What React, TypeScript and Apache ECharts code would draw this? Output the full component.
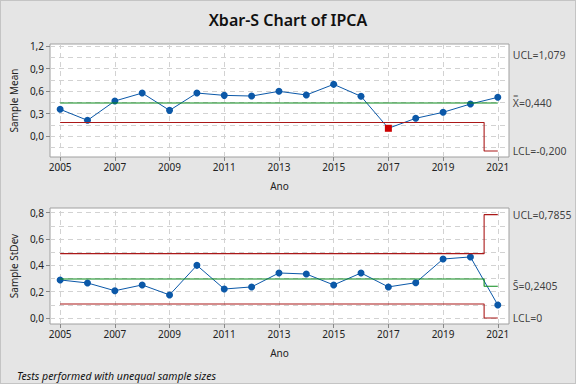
import React, { useEffect, useRef } from "react";
import * as echarts from "echarts";

const years = [2005, 2006, 2007, 2008, 2009, 2010, 2011, 2012, 2013, 2014, 2015, 2016, 2017, 2018, 2019, 2020, 2021];
const sampleMean = [0.356, 0.209, 0.467, 0.573, 0.342, 0.573, 0.542, 0.533, 0.596, 0.547, 0.689, 0.529, 0.103, 0.236, 0.316, 0.427, 0.516];
const meanUCL = [0.70, 0.70, 0.70, 0.70, 0.70, 0.70, 0.70, 0.70, 0.70, 0.70, 0.70, 0.70, 0.70, 0.70, 0.70, 0.70, 1.079];
const meanCL = [0.44, 0.44, 0.44, 0.44, 0.44, 0.44, 0.44, 0.44, 0.44, 0.44, 0.44, 0.44, 0.44, 0.44, 0.44, 0.44, 0.44];
const meanLCL = [0.18, 0.18, 0.18, 0.18, 0.18, 0.18, 0.18, 0.18, 0.18, 0.18, 0.18, 0.18, 0.18, 0.18, 0.18, 0.18, -0.2];
const meanFlagged = [2017];

const sampleStDev = [0.289, 0.266, 0.207, 0.251, 0.175, 0.400, 0.220, 0.236, 0.342, 0.334, 0.251, 0.342, 0.236, 0.268, 0.448, 0.464, 0.099];
const sdUCL = [0.489, 0.489, 0.489, 0.489, 0.489, 0.489, 0.489, 0.489, 0.489, 0.489, 0.489, 0.489, 0.489, 0.489, 0.489, 0.489, 0.7855];
const sdCL = [0.296, 0.296, 0.296, 0.296, 0.296, 0.296, 0.296, 0.296, 0.296, 0.296, 0.296, 0.296, 0.296, 0.296, 0.296, 0.296, 0.2405];
const sdLCL = [0.106, 0.106, 0.106, 0.106, 0.106, 0.106, 0.106, 0.106, 0.106, 0.106, 0.106, 0.106, 0.106, 0.106, 0.106, 0.106, 0];

const xTickYears = [2005, 2007, 2009, 2011, 2013, 2015, 2017, 2019, 2021];
const meanTicks = [0, 0.3, 0.6, 0.9, 1.2];
const meanGrid = [-0.15, 0, 0.15, 0.3, 0.45, 0.6, 0.75, 0.9, 1.05, 1.2];
const sdTicks = [0, 0.2, 0.4, 0.6, 0.8];
const sdGrid = [0, 0.1, 0.2, 0.3, 0.4, 0.5, 0.6, 0.7, 0.8];

const FONT = "'Noto Sans', 'DejaVu Sans', sans-serif";
const BLUE = "#0b58a8";
const RED = "#aa1818";
const GREEN = "#0a8a1a";
const GRIDC = "#d2d2d2";

const comma = (v: number, d: number) => v.toFixed(d).replace(".", ",");

export default function App() {
  const ref = useRef<HTMLDivElement>(null);
  useEffect(() => {
    if (!ref.current) return;
    const chart = echarts.init(ref.current, null, { renderer: "svg" });

    const pairs = (ys: number[]) => years.map((y, i) => [y, ys[i]]);
    const lastYear = years[years.length - 1];
    const gridLineSeries = (idx: number, yVals: number[]) => ({
      type: "line",
      xAxisIndex: idx,
      yAxisIndex: idx,
      data: [],
      silent: true,
      z: 1,
      markLine: {
        silent: true,
        z: 1,
        symbol: ["none", "none"],
        label: { show: false },
        lineStyle: { color: GRIDC, type: [5, 4], width: 1 },
        data: [
          ...xTickYears.map((x) => ({ xAxis: x })),
          ...yVals.map((v) => ({ yAxis: v })),
        ],
      },
    });
    const limitSeries = (idx: number, vals: number[], color: string) => ({
      type: "line",
      xAxisIndex: idx,
      yAxisIndex: idx,
      data: pairs(vals),
      step: "middle",
      symbol: "none",
      silent: true,
      z: 5,
      lineStyle: { color, width: 1.1 },
    });
    const limitLabels = (idx: number, items: { v: number; t: string }[]) => ({
      type: "scatter",
      xAxisIndex: idx,
      yAxisIndex: idx,
      silent: true,
      z: 6,
      symbol: "circle",
      symbolSize: 0,
      itemStyle: { color: "rgba(0,0,0,0)" },
      data: items.map((it) => ({ value: [lastYear, it.v], name: it.t })),
      label: {
        show: true,
        position: "right",
        distance: 15,
        formatter: (p: any) => p.name,
        color: "#111",
        fontFamily: FONT,
        fontSize: 10.5,
      },
    });
    const dataSeries = (idx: number, vals: number[], flagged: number[]) => ({
      type: "line",
      xAxisIndex: idx,
      yAxisIndex: idx,
      z: 3,
      data: years.map((y, i) =>
        flagged.includes(y)
          ? { value: [y, vals[i]], symbol: "rect", symbolSize: 7, itemStyle: { color: "#cc0000" } }
          : { value: [y, vals[i]] }
      ),
      symbol: "circle",
      symbolSize: 7,
      showSymbol: true,
      lineStyle: { color: BLUE, width: 1 },
      itemStyle: { color: BLUE },
    });

    const xAxis = (idx: number) => ({
      type: "value",
      gridIndex: idx,
      min: 2004.63,
      max: 2021.41,
      name: "Ano",
      nameLocation: "middle",
      nameGap: 24,
      nameTextStyle: { fontFamily: FONT, fontSize: 10, color: "#222" },
      axisLine: { show: false, onZero: false },
      axisTick: { show: true, customValues: xTickYears, length: 4, lineStyle: { color: "#888" } },
      axisLabel: { customValues: xTickYears, formatter: (v: number) => String(v), fontFamily: FONT, fontSize: 10, color: "#222", margin: 5 },
      splitLine: { show: false },
    });
    const yAxis = (idx: number, min: number, max: number, ticks: number[], name: string) => ({
      type: "value",
      gridIndex: idx,
      min,
      max,
      name,
      nameLocation: "middle",
      nameGap: 29,
      nameTextStyle: { fontFamily: FONT, fontSize: 10, color: "#222" },
      axisLine: { show: false, onZero: false },
      axisTick: { show: true, customValues: ticks, length: 4, lineStyle: { color: "#888" } },
      axisLabel: { customValues: ticks, formatter: (v: number) => comma(v, 1), fontFamily: FONT, fontSize: 10, color: "#222", margin: 6 },
      splitLine: { show: false },
    });

    const lastOf = (a: number[]) => a[a.length - 1];

    chart.setOption({
      animation: false,
      backgroundColor: "#e5e5e5",
      title: [
        {
          text: "Xbar-S Chart of IPCA",
          left: "center",
          top: 6,
          textStyle: { fontFamily: FONT, fontSize: 16, fontWeight: 600, color: "#111" },
        },
        {
          text: "Tests performed with unequal sample sizes",
          left: 11,
          top: 364,
          textStyle: { fontFamily: FONT, fontSize: 10.5, fontStyle: "italic", fontWeight: "normal", color: "#111" },
        },
      ],
      grid: [
        { left: 42, right: 66, top: 43, height: 113, show: true, backgroundColor: "#ffffff", borderColor: "#a0a0a0", borderWidth: 1 },
        { left: 42, right: 66, top: 207, height: 116, show: true, backgroundColor: "#ffffff", borderColor: "#a0a0a0", borderWidth: 1 },
      ],
      xAxis: [xAxis(0), xAxis(1)],
      yAxis: [
        yAxis(0, -0.28, 1.227, meanTicks, "Sample Mean"),
        yAxis(1, -0.046, 0.836, sdTicks, "Sample StDev"),
      ],
      series: [
        gridLineSeries(0, meanGrid),
        gridLineSeries(1, sdGrid),
        dataSeries(0, sampleMean, meanFlagged),
        dataSeries(1, sampleStDev, []),
        limitSeries(0, meanCL, GREEN),
        limitSeries(0, meanLCL, RED),
        limitSeries(1, sdUCL, RED),
        limitSeries(1, sdCL, GREEN),
        limitSeries(1, sdLCL, RED),
        limitLabels(0, [
          { v: lastOf(meanUCL), t: "UCL=" + comma(lastOf(meanUCL), 3) },
          { v: lastOf(meanCL), t: "X\u033F=" + comma(lastOf(meanCL), 3) },
          { v: lastOf(meanLCL), t: "LCL=" + comma(lastOf(meanLCL), 3) },
        ]),
        limitLabels(1, [
          { v: lastOf(sdUCL), t: "UCL=" + comma(lastOf(sdUCL), 4) },
          { v: lastOf(sdCL), t: "S\u0304=" + comma(lastOf(sdCL), 4) },
          { v: lastOf(sdLCL), t: "LCL=" + (lastOf(sdLCL) === 0 ? "0" : comma(lastOf(sdLCL), 4)) },
        ]),
      ],
    });
    return () => chart.dispose();
  }, []);

  return (
    <div
      ref={ref}
      style={{
        position: "fixed",
        left: 0,
        top: 0,
        width: 576,
        height: 384,
        boxSizing: "border-box",
        border: "1px solid #c4c4c4",
        background: "#e5e5e5",
      }}
    />
  );
}
